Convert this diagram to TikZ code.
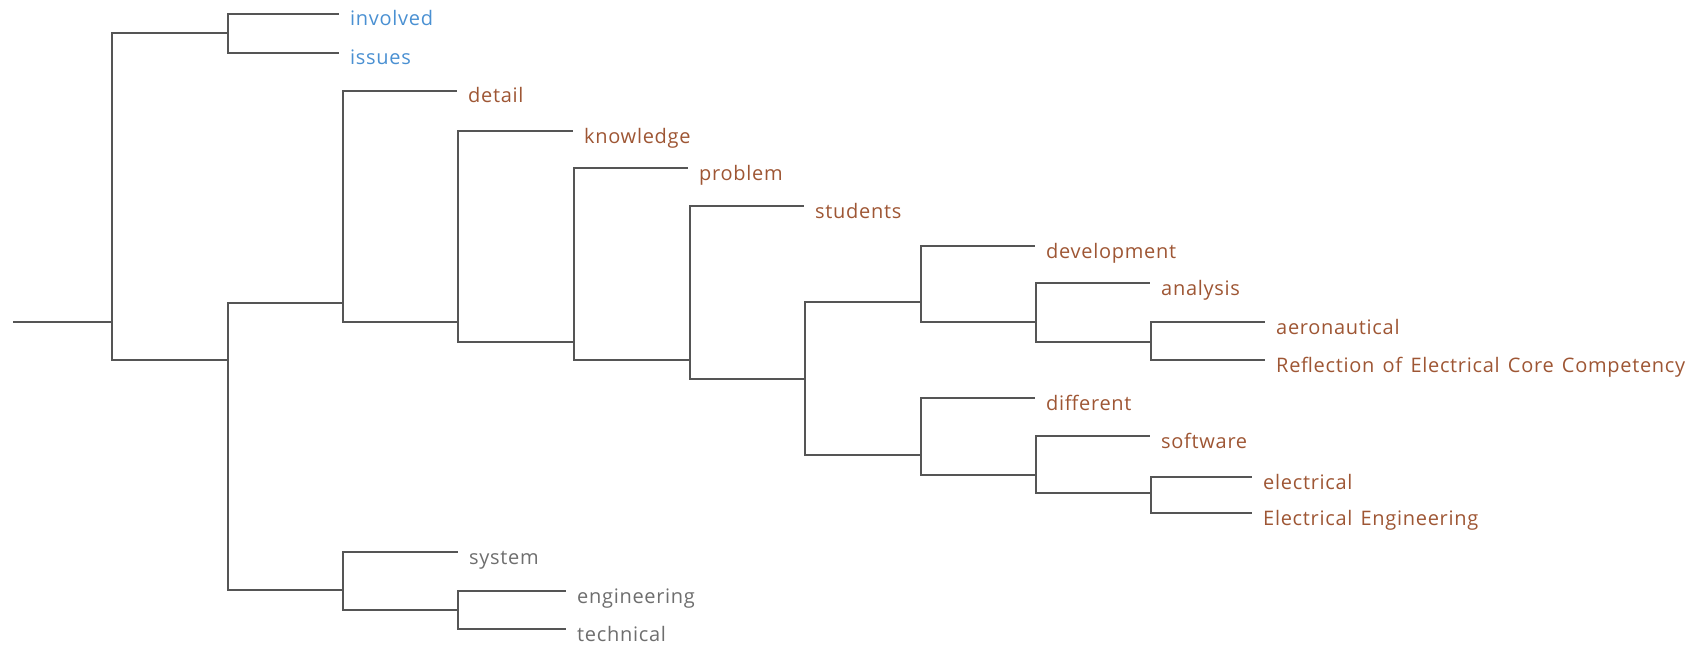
\documentclass[tikz,border=0pt]{standalone}
\usepackage{fontspec}
\setmainfont{Open Sans}[LetterSpace=3.5,WordSpace=1.4]
\definecolor{branch}{HTML}{555555}
\definecolor{blueleaf}{HTML}{4A90D2}
\definecolor{brownleaf}{HTML}{9E5634}
\definecolor{grayleaf}{HTML}{6E6E6E}
\begin{document}
\begin{tikzpicture}[x=1pt,y=-1pt,
  link/.style={draw=branch,line width=1.8pt},
  lbl/.style={inner sep=0pt,anchor=base west,font=\fontsize{20}{24}\selectfont},
  bl/.style={lbl,text=blueleaf},
  br/.style={lbl,text=brownleaf},
  gr/.style={lbl,text=grayleaf}]
\useasboundingbox (0,0) rectangle (1702,650);
% junctions
\coordinate (S) at (13,322);
\coordinate (R) at (112,322);
\coordinate (A) at (228,33);
\coordinate (B) at (228,360);
\coordinate (C) at (343,303);
\coordinate (D) at (458,322);
\coordinate (E) at (574,342);
\coordinate (F) at (690,360);
\coordinate (G) at (805,379);
\coordinate (H) at (921,302);
\coordinate (I) at (1036,322);
\coordinate (J) at (1151,342);
\coordinate (K) at (921,455);
\coordinate (L) at (1036,475);
\coordinate (M) at (1151,493);
\coordinate (N) at (343,590);
\coordinate (O) at (458,610);
% leaf ends
\coordinate (invE) at (339,14);
\coordinate (issE) at (339,53);
\coordinate (detE) at (457,91);
\coordinate (knoE) at (573,131);
\coordinate (proE) at (688,168);
\coordinate (stuE) at (804,206);
\coordinate (devE) at (1035,246);
\coordinate (anaE) at (1150,283);
\coordinate (aerE) at (1265,322);
\coordinate (refE) at (1265,360);
\coordinate (difE) at (1035,398);
\coordinate (sofE) at (1150,436);
\coordinate (eleE) at (1252,477);
\coordinate (eenE) at (1252,513);
\coordinate (sysE) at (458,552);
\coordinate (engE) at (566,591);
\coordinate (tecE) at (566,629);
% branches
\draw[link] (S) -- (R);
\draw[link] (R) |- (A);
\draw[link] (R) |- (B);
\draw[link] (A) |- (invE);
\draw[link] (A) |- (issE);
\draw[link] (B) |- (C);
\draw[link] (B) |- (N);
\draw[link] (C) |- (detE);
\draw[link] (C) |- (D);
\draw[link] (D) |- (knoE);
\draw[link] (D) |- (E);
\draw[link] (E) |- (proE);
\draw[link] (E) |- (F);
\draw[link] (F) |- (stuE);
\draw[link] (F) |- (G);
\draw[link] (G) |- (H);
\draw[link] (G) |- (K);
\draw[link] (H) |- (devE);
\draw[link] (H) |- (I);
\draw[link] (I) |- (anaE);
\draw[link] (I) |- (J);
\draw[link] (J) |- (aerE);
\draw[link] (J) |- (refE);
\draw[link] (K) |- (difE);
\draw[link] (K) |- (L);
\draw[link] (L) |- (sofE);
\draw[link] (L) |- (M);
\draw[link] (M) |- (eleE);
\draw[link] (M) |- (eenE);
\draw[link] (N) |- (sysE);
\draw[link] (N) |- (O);
\draw[link] (O) |- (engE);
\draw[link] (O) |- (tecE);
% labels
\node[bl] (involved) at ([shift={(11,12)}]invE) {involved};
\node[bl] (issues) at ([shift={(11,12)}]issE) {issues};
\node[br] (detail) at ([shift={(11,12)}]detE) {detail};
\node[br] (knowledge) at ([shift={(11,12)}]knoE) {knowledge};
\node[br] (problem) at ([shift={(11,12)}]proE) {problem};
\node[br] (students) at ([shift={(11,12)}]stuE) {students};
\node[br] (development) at ([shift={(11,12)}]devE) {development};
\node[br] (analysis) at ([shift={(11,12)}]anaE) {analysis};
\node[br] (aeronautical) at ([shift={(11,12)}]aerE) {aeronautical};
\node[br] (reflection) at ([shift={(11,12)}]refE) {Reflection of Electrical Core Competency};
\node[br] (different) at ([shift={(11,12)}]difE) {different};
\node[br] (software) at ([shift={(11,12)}]sofE) {software};
\node[br] (electrical) at ([shift={(11,12)}]eleE) {electrical};
\node[br] (eleceng) at ([shift={(11,12)}]eenE) {Electrical Engineering};
\node[gr] (system) at ([shift={(11,12)}]sysE) {system};
\node[gr] (engineering) at ([shift={(11,12)}]engE) {engineering};
\node[gr] (technical) at ([shift={(11,12)}]tecE) {technical};
\end{tikzpicture}
\end{document}
